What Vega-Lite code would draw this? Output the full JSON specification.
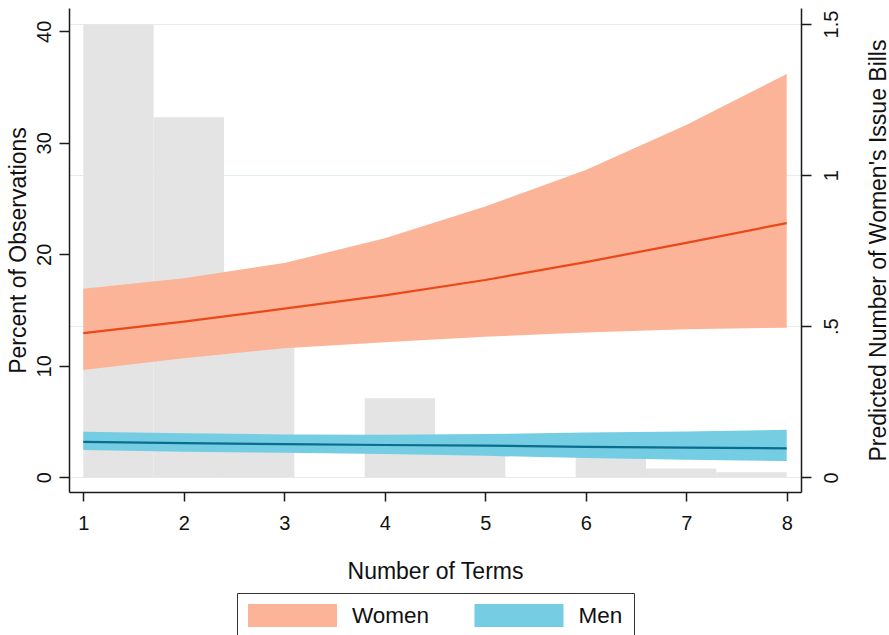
{
  "$schema": "https://vega.github.io/schema/vega-lite/v6.json",
  "width": 732,
  "height": 484,
  "autosize": {"type": "none"},
  "padding": {"left": 69, "top": 8, "right": 88, "bottom": 143},
  "background": "white",
  "config": {
    "view": {"stroke": null},
    "font": "Liberation Sans",
    "axis": {
      "domainColor": "#1a1a1a",
      "domainWidth": 1.5,
      "tickColor": "#1a1a1a",
      "tickWidth": 1.5,
      "labelColor": "#111111",
      "titleColor": "#111111",
      "labelFontSize": 20,
      "titleFontSize": 23,
      "titleFontWeight": "normal",
      "labelOverlap": false,
      "labelFlush": false
    }
  },
  "datasets": {
    "hist": [
      {"start": 1.0, "end": 1.7, "pct": 40.6},
      {"start": 1.7, "end": 2.4, "pct": 32.3},
      {"start": 2.4, "end": 3.1, "pct": 13.4},
      {"start": 3.8, "end": 4.5, "pct": 7.1},
      {"start": 4.5, "end": 5.2, "pct": 3.0},
      {"start": 5.9, "end": 6.6, "pct": 2.5},
      {"start": 6.6, "end": 7.3, "pct": 0.8},
      {"start": 7.3, "end": 8.0, "pct": 0.45}
    ],
    "pred": [
      {"series": "Women", "term": 1, "pred": 0.477, "lo": 0.355, "hi": 0.624},
      {"series": "Women", "term": 2, "pred": 0.515, "lo": 0.394, "hi": 0.659},
      {"series": "Women", "term": 3, "pred": 0.558, "lo": 0.427, "hi": 0.709},
      {"series": "Women", "term": 4, "pred": 0.602, "lo": 0.447, "hi": 0.791},
      {"series": "Women", "term": 5, "pred": 0.653, "lo": 0.465, "hi": 0.896},
      {"series": "Women", "term": 6, "pred": 0.712, "lo": 0.479, "hi": 1.017},
      {"series": "Women", "term": 7, "pred": 0.776, "lo": 0.490, "hi": 1.166},
      {"series": "Women", "term": 8, "pred": 0.841, "lo": 0.495, "hi": 1.335},
      {"series": "Men", "term": 1, "pred": 0.117, "lo": 0.090, "hi": 0.151},
      {"series": "Men", "term": 2, "pred": 0.113, "lo": 0.085, "hi": 0.146},
      {"series": "Men", "term": 3, "pred": 0.110, "lo": 0.081, "hi": 0.142},
      {"series": "Men", "term": 4, "pred": 0.107, "lo": 0.077, "hi": 0.141},
      {"series": "Men", "term": 5, "pred": 0.105, "lo": 0.071, "hi": 0.143},
      {"series": "Men", "term": 6, "pred": 0.101, "lo": 0.064, "hi": 0.148},
      {"series": "Men", "term": 7, "pred": 0.098, "lo": 0.058, "hi": 0.152},
      {"series": "Men", "term": 8, "pred": 0.096, "lo": 0.054, "hi": 0.157}
    ]
  },
  "layer": [
    {
      "data": {"name": "hist"},
      "mark": {"type": "rect", "color": "#E4E4E4"},
      "encoding": {
        "x": {
          "field": "start",
          "type": "quantitative",
          "scale": {"domain": [0.8577, 8.1423], "nice": false, "zero": false},
          "axis": {
            "orient": "bottom",
            "values": [1, 2, 3, 4, 5, 6, 7, 8],
            "format": "d",
            "grid": false,
            "tickSize": 9,
            "labelPadding": 12,
            "labelAngle": 0,
            "title": "Number of Terms",
            "titleX": 366,
            "titleY": 86,
            "titleAlign": "center",
            "titleBaseline": "alphabetic"
          }
        },
        "x2": {"field": "end"},
        "y": {
          "field": "pct",
          "type": "quantitative",
          "scale": {"domain": [-1.318, 42.09], "nice": false, "zero": false},
          "axis": {
            "orient": "left",
            "values": [0, 10, 20, 30, 40],
            "format": "d",
            "grid": false,
            "tickSize": 10,
            "labelAngle": 270,
            "labelAlign": "center",
            "labelBaseline": "alphabetic",
            "labelPadding": 9,
            "title": "Percent of Observations",
            "titleAngle": 270,
            "titleX": -44,
            "titleY": 242,
            "titleAlign": "center",
            "titleBaseline": "alphabetic"
          }
        },
        "y2": {"datum": 0}
      }
    },
    {
      "data": {"name": "pred"},
      "layer": [
        {
          "mark": {"type": "area", "opacity": 1, "fillOpacity": 1},
          "encoding": {
            "x": {
              "field": "term",
              "type": "quantitative",
              "scale": {"domain": [0.8577, 8.1423], "nice": false, "zero": false}
            },
            "y": {
              "field": "hi",
              "type": "quantitative",
              "scale": {"domain": [-0.0486, 1.553], "nice": false, "zero": false},
              "axis": {
                "orient": "right",
                "values": [0, 0.5, 1, 1.5],
                "grid": true,
                "gridColor": "#E3ECEF",
                "gridWidth": 1.2,
                "tickSize": 10,
                "labelAngle": 270,
                "labelAlign": "center",
                "labelBaseline": "top",
                "labelPadding": 10.5,
                "labelExpr": "datum.value == 0.5 ? '.5' : datum.value == 1.5 ? '1.5' : format(datum.value, 'd')",
                "title": "Predicted Number of Women's Issue Bills",
                "titleAngle": 270,
                "titleX": 84,
                "titleY": 242,
                "titleAlign": "center",
                "titleBaseline": "alphabetic"
              }
            },
            "y2": {"field": "lo"},
            "fill": {
              "field": "series",
              "type": "nominal",
              "scale": {"domain": ["Women", "Men"], "range": ["#FCB499", "#74CDE2"]},
              "legend": {
                "orient": "none",
                "legendX": 168,
                "legendY": 585,
                "direction": "horizontal",
                "title": null,
                "symbolType": "M-3.87,-1H3.87V1H-3.87Z",
                "symbolSize": 529,
                "symbolOffset": 33,
                "symbolStrokeWidth": 0,
                "symbolOpacity": 1,
                "labelFontSize": 22.5,
                "labelOffset": 48,
                "labelColor": "#111111",
                "columnPadding": 43.5,
                "padding": 11,
                "strokeColor": "#333333"
              }
            }
          }
        },
        {
          "mark": {"type": "line", "strokeWidth": 2.2},
          "encoding": {
            "x": {
              "field": "term",
              "type": "quantitative",
              "scale": {"domain": [0.8577, 8.1423], "nice": false, "zero": false}
            },
            "y": {"field": "pred", "type": "quantitative"},
            "stroke": {
              "field": "series",
              "type": "nominal",
              "scale": {"domain": ["Women", "Men"], "range": ["#EB4819", "#0A6D8D"]},
              "legend": null
            }
          }
        }
      ]
    }
  ],
  "resolve": {"scale": {"y": "independent"}}
}
